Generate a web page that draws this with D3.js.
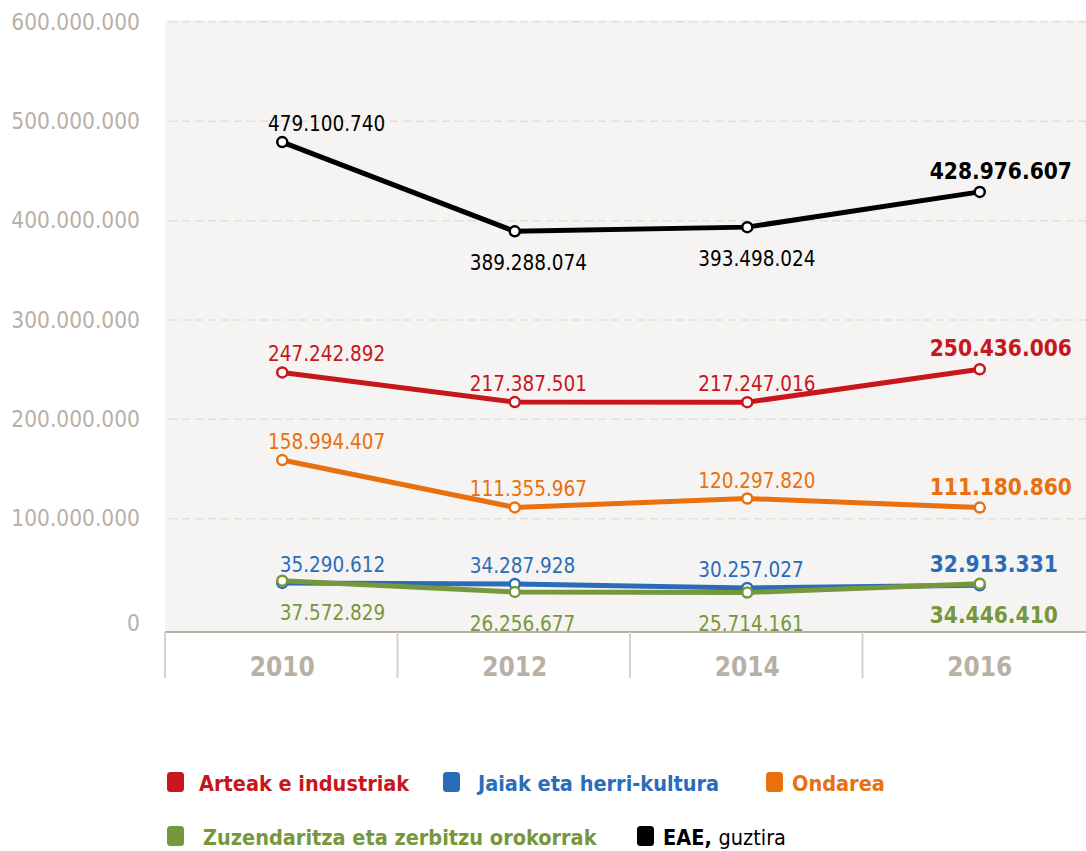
<!DOCTYPE html>
<html>
<head>
<meta charset="utf-8">
<script src="https://cdnjs.cloudflare.com/ajax/libs/d3/7.8.4/d3.min.js"></script>
<style>
  body { margin: 0; background: #fff; }
  svg text { font-family: "DejaVu Sans Condensed", "DejaVu Sans", sans-serif; font-stretch: condensed; }
</style>
</head>
<body>
<div id="chart"></div>
<script>
const years = ["2010", "2012", "2014", "2016"];
const yTicks = [0, 100000000, 200000000, 300000000, 400000000, 500000000, 600000000];

const arteak = [247242892, 217387501, 217247016, 250436006];
const jaiak = [35290612, 34287928, 30257027, 32913331];
const ondarea = [158994407, 111355967, 120297820, 111180860];
const zuzendaritza = [37572829, 26256677, 25714161, 34446410];
const eae = [479100740, 389288074, 393498024, 428976607];

// orden de dibujo: la última serie queda encima
const series = [
  { name: "Jaiak eta herri-kultura", values: jaiak, color: "#2b6cb8", below: [false, false, false, false] },
  { name: "Zuzendaritza eta zerbitzu orokorrak", values: zuzendaritza, color: "#76973b", below: [true, true, true, true] },
  { name: "Ondarea", values: ondarea, color: "#e8700f", below: [false, false, false, false] },
  { name: "Arteak e industriak", values: arteak, color: "#c8161d", below: [false, false, false, false] },
  { name: "EAE, guztira", values: eae, color: "#000000", below: [false, true, true, false] }
];

const W = 1086, H = 851;
const svg = d3.select("#chart").append("svg").attr("width", W).attr("height", H);

const plotLeft = 165, plotTop = 20, plotBottom = 632;

const x = d3.scaleBand().domain(years).range([166, 1096]);
const y = d3.scaleLinear().domain([0, 600000000]).range([618, 22]);

// fondo
svg.append("rect")
  .attr("x", plotLeft).attr("y", plotTop)
  .attr("width", W - plotLeft).attr("height", plotBottom - plotTop)
  .attr("fill", "#f5f4f2");

// rejilla
svg.append("g")
  .selectAll("line")
  .data(yTicks.filter(d => d > 0))
  .join("line")
  .attr("x1", plotLeft + 4).attr("x2", W)
  .attr("y1", d => y(d)).attr("y2", d => y(d))
  .attr("stroke", "#e2dfd8").attr("stroke-width", 1.5)
  .attr("stroke-dasharray", "8,5");

// eje Y
const fmt = d => d3.format(",")(d).replace(/,/g, ".");
const yAxis = d3.axisLeft(y).tickValues(yTicks).tickSize(0).tickPadding(0).tickFormat(fmt);
const gy = svg.append("g").attr("transform", "translate(140,0)").call(yAxis);
gy.select(".domain").remove();
gy.selectAll("text")
  .attr("fill", "#b8afa5").attr("font-size", 22.5)
  .attr("dy", "0.32em")
  .attr("font-family", null);
gy.selectAll(".tick").filter(d => d === 0).select("text").attr("dy", "0.55em");

// eje X
svg.append("line")
  .attr("x1", plotLeft).attr("x2", W)
  .attr("y1", plotBottom).attr("y2", plotBottom)
  .attr("stroke", "#b8afa5").attr("stroke-width", 2);

const xAxis = d3.axisBottom(x).tickSize(0).tickPadding(0);
const gx = svg.append("g").attr("transform", `translate(0,${plotBottom})`).call(xAxis);
gx.select(".domain").remove();
gx.selectAll("text")
  .attr("y", 44)
  .attr("dy", 0)
  .attr("fill", "#b8afa5").attr("font-size", 26).attr("font-weight", "bold")
  .attr("font-family", null);

svg.append("g")
  .selectAll("line")
  .data(years)
  .join("line")
  .attr("x1", d => x(d) - 1).attr("x2", d => x(d) - 1)
  .attr("y1", plotBottom).attr("y2", plotBottom + 46)
  .attr("stroke", "#d6d1cb").attr("stroke-width", 2);

// líneas
const line = d3.line()
  .x((d, i) => x(years[i]) + x.bandwidth() / 2)
  .y(d => y(d));

series.forEach(s => {
  const g = svg.append("g");
  g.append("path")
    .datum(s.values)
    .attr("fill", "none")
    .attr("stroke", s.color)
    .attr("stroke-width", 5)
    .attr("d", line);

  g.selectAll("circle")
    .data(s.values)
    .join("circle")
    .attr("cx", (d, i) => x(years[i]) + x.bandwidth() / 2)
    .attr("cy", d => y(d))
    .attr("r", 5)
    .attr("fill", "#fff")
    .attr("stroke", s.color)
    .attr("stroke-width", 2.5);
});

// etiquetas de valores
series.forEach(s => {
  svg.append("g")
    .selectAll("text")
    .data(s.values)
    .join("text")
    .attr("x", (d, i) => {
      const cx = x(years[i]) + x.bandwidth() / 2;
      return i === 0 ? cx + 103 : cx - [0, 45, 49, 50][i];
    })
    .attr("text-anchor", (d, i) => i === 0 ? "end" : "start")
    .attr("y", (d, i) => y(d) + (s.below[i] ? 39 : (i === 3 ? -13 : -11)))
    .attr("fill", s.color)
    .attr("font-size", (d, i) => i === 3 ? 22.5 : 20.5)
    .attr("font-weight", (d, i) => i === 3 ? "bold" : "normal")
    .text(fmt);
});

// leyenda
const legendItems = [
  { name: "Arteak e industriak", color: "#c8161d", x: 167, y: 782, dx: 32 },
  { name: "Jaiak eta herri-kultura", color: "#2b6cb8", x: 443, y: 782, dx: 35 },
  { name: "Ondarea", color: "#e8700f", x: 766, y: 782, dx: 26 },
  { name: "Zuzendaritza eta zerbitzu orokorrak", color: "#76973b", x: 167, y: 836, dx: 36 },
  { name: "EAE, guztira", color: "#000000", x: 637, y: 836, dx: 26 }
];

const lg = svg.append("g").selectAll("g").data(legendItems).join("g")
  .attr("transform", d => `translate(${d.x},${d.y})`);
lg.append("rect")
  .attr("x", 0).attr("y", -10).attr("width", 17).attr("height", 20).attr("rx", 3.5)
  .attr("fill", d => d.color);
lg.append("text")
  .attr("x", d => d.dx)
  .attr("y", 9)
  .attr("fill", d => d.color)
  .attr("font-size", 21.5)
  .attr("font-weight", "bold")
  .each(function (d) {
    const t = d3.select(this);
    if (d.name === "EAE, guztira") {
      t.append("tspan").text("EAE, ");
      t.append("tspan").attr("font-weight", "normal").text("guztira");
    } else {
      t.text(d.name);
    }
  });
</script>
</body>
</html>
